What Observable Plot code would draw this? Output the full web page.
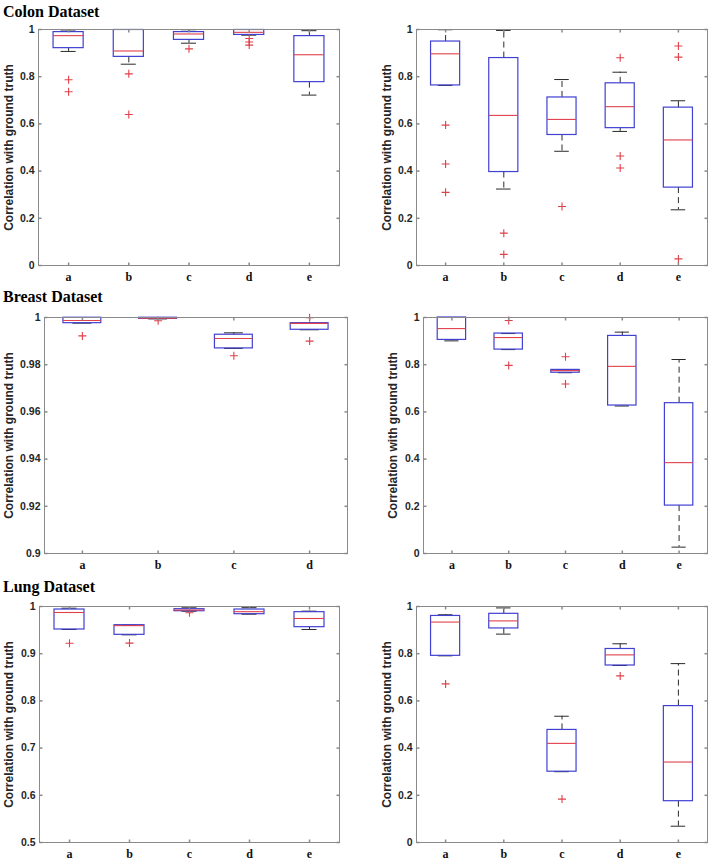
<!DOCTYPE html>
<html><head><meta charset="utf-8">
<script src="https://cdn.jsdelivr.net/npm/d3@7"></script>
<script src="https://cdn.jsdelivr.net/npm/@observablehq/plot@0.6"></script>
<style>
html,body{margin:0;padding:0;background:#fff;}
#fig{position:relative;width:713px;height:861px;overflow:hidden;background:#fff;}
.panel{position:absolute;}
.title{position:absolute;font-family:"Liberation Serif","Times New Roman",serif;font-weight:bold;font-size:16px;line-height:16px;color:#000;white-space:nowrap;}
</style></head><body><div id="fig"></div>
<script>
// Categories and tick values
const cats5 = ["a", "b", "c", "d", "e"];
const cats4 = ["a", "b", "c", "d"];
const ticks01 = [0, 0.2, 0.4, 0.6, 0.8, 1];
const ticksBreastLeft = [0.9, 0.92, 0.94, 0.96, 0.98, 1];
const ticksLungLeft = [0.5, 0.6, 0.7, 0.8, 0.9, 1];
const titles = ["Colon Dataset", "Breast Dataset", "Lung Dataset"];
const yLabel = "Correlation with ground truth";

// Box statistics per category: [lower whisker, q1, median, q3, upper whisker]
const colonLeft = [
  [0.907, 0.921, 0.974, 0.989, 0.998],
  [0.853, 0.884, 0.909, 0.998, 1.0],
  [0.942, 0.956, 0.981, 0.989, 0.999],
  [0.976, 0.977, 0.988, 0.998, 1.0],
  [0.722, 0.777, 0.893, 0.972, 0.995]
];
const colonLeftOutliers = [["a", 0.787], ["a", 0.736], ["b", 0.812], ["b", 0.640], ["c", 0.918], ["d", 0.962], ["d", 0.947], ["d", 0.934]];

const colonRight = [
  [0.763, 0.763, 0.897, 0.949, 0.999],
  [0.324, 0.396, 0.636, 0.879, 0.996],
  [0.484, 0.553, 0.619, 0.712, 0.788],
  [0.568, 0.582, 0.673, 0.772, 0.819],
  [0.236, 0.330, 0.532, 0.669, 0.698]
];
const colonRightOutliers = [["a", 0.595], ["a", 0.430], ["a", 0.310], ["b", 0.137], ["b", 0.047], ["c", 0.250], ["d", 0.880], ["d", 0.464], ["d", 0.413], ["e", 0.930], ["e", 0.883], ["e", 0.028]];

const breastLeft = [
  [0.9976, 0.9976, 0.9987, 0.9999, 1.0],
  [0.9994, 0.9994, 0.9997, 0.9999, 1.0],
  [0.9869, 0.9869, 0.9911, 0.9927, 0.9935],
  [0.9948, 0.9948, 0.9975, 0.9976, 0.9976]
];
const breastLeftOutliers = [["a", 0.9922], ["b", 0.9986], ["c", 0.9838], ["d", 0.9999], ["d", 0.9900]];

const breastRight = [
  [0.901, 0.905, 0.953, 1.0, 1.0],
  [0.864, 0.864, 0.915, 0.932, 0.932],
  [0.766, 0.766, 0.775, 0.778, 0.778],
  [0.625, 0.627, 0.793, 0.922, 0.938],
  [0.027, 0.203, 0.385, 0.637, 0.822]
];
const breastRightOutliers = [["b", 0.987], ["b", 0.797], ["c", 0.834], ["c", 0.718]];

const lungLeft = [
  [0.9513, 0.9513, 0.9873, 0.9936, 0.9964],
  [0.9400, 0.9400, 0.9595, 0.9604, 0.9604],
  [0.9900, 0.9900, 0.9925, 0.9943, 0.9985],
  [0.9837, 0.9837, 0.9890, 0.9936, 0.9975],
  [0.9513, 0.9562, 0.9746, 0.9880, 0.9901]
];
const lungLeftOutliers = [["a", 0.9222], ["b", 0.9225], ["c", 0.9866]];

const lungRight = [
  [0.791, 0.791, 0.934, 0.960, 0.965],
  [0.883, 0.907, 0.939, 0.969, 0.994],
  [0.300, 0.300, 0.420, 0.477, 0.535],
  [0.750, 0.750, 0.795, 0.820, 0.842],
  [0.069, 0.175, 0.341, 0.578, 0.758]
];
const lungRightOutliers = [["a", 0.672], ["c", 0.184], ["d", 0.706]];

// ---------- drawing ----------
const BLUE = "#4040d2", RED = "#e0404a", WHISK = "#2a2a2a", FRAME = "#8a8a8a", TXT = "#262626";
const TL = 3;
const tickLeft = {draw(c) { c.moveTo(0, 0); c.lineTo(TL, 0); }};
const tickRight = {draw(c) { c.moveTo(0, 0); c.lineTo(-TL, 0); }};
const tickBottom = {draw(c) { c.moveTo(0, 0); c.lineTo(0, -TL); }};
const tickTop = {draw(c) { c.moveTo(0, 0); c.lineTo(0, TL); }};
const fmt = d => String(+(+d).toFixed(2));

function panel(o) {
  const {cats, stats, outliers, yTicks, left, top, width, height, ml, mr, mt, mb, ylabX} = o;
  const n = cats.length;
  const boxes = stats.map((s, i) => ({x: i + 1, lo: s[0], q1: s[1], med: s[2], q3: s[3], hi: s[4]}));
  const outs = outliers.map(([c, v]) => ({x: cats.indexOf(c) + 1, y: v}));
  const xt = cats.map((c, i) => i + 1);
  const y0 = yTicks[0], y1 = yTicks[yTicks.length - 1];
  const bw = 0.25, cw = 0.125;
  const chart = Plot.plot({
    width, height, marginLeft: ml, marginRight: mr, marginTop: mt, marginBottom: mb,
    x: {type: "linear", domain: [0.5, n + 0.5]},
    y: {domain: [y0, y1]},
    style: {background: "transparent", overflow: "visible"},
    marks: [
      Plot.ruleX(boxes, {x: "x", y1: "q3", y2: "hi", stroke: WHISK, strokeDasharray: "6,4"}),
      Plot.ruleX(boxes, {x: "x", y1: "q1", y2: "lo", stroke: WHISK, strokeDasharray: "6,4"}),
      Plot.ruleY(boxes, {y: "hi", x1: d => d.x - cw, x2: d => d.x + cw, stroke: WHISK}),
      Plot.ruleY(boxes, {y: "lo", x1: d => d.x - cw, x2: d => d.x + cw, stroke: WHISK}),
      Plot.rect(boxes, {x1: d => d.x - bw, x2: d => d.x + bw, y1: "q1", y2: "q3", fill: "none", stroke: BLUE, strokeWidth: 1.2}),
      Plot.ruleY(boxes, {y: "med", x1: d => d.x - bw, x2: d => d.x + bw, stroke: RED, strokeWidth: 1.1}),
      Plot.dot(outs, {x: "x", y: "y", symbol: "plus", stroke: RED, r: 2.7, strokeWidth: 1.1}),
      Plot.frame({stroke: FRAME}),
      Plot.dot(yTicks, {x: () => 0.5, y: d => d, symbol: tickLeft, fill: "none", stroke: FRAME}),
      Plot.dot(yTicks, {x: () => n + 0.5, y: d => d, symbol: tickRight, fill: "none", stroke: FRAME}),
      Plot.dot(xt, {x: d => d, y: () => y0, symbol: tickBottom, fill: "none", stroke: FRAME}),
      Plot.dot(xt, {x: d => d, y: () => y1, symbol: tickTop, fill: "none", stroke: FRAME}),
      Plot.axisY(yTicks, {tickSize: 0, tickPadding: 4, tickFormat: fmt, fontSize: 10.5, fontWeight: "bold", fill: TXT, fontFamily: "'Liberation Sans', Arial, sans-serif", label: null}),
      Plot.axisX(xt, {tickSize: 0, tickPadding: 7, tickFormat: i => cats[i - 1], fontSize: 12, fontWeight: "bold", fill: "#111", fontFamily: "'Liberation Serif', 'Times New Roman', serif", label: null}),
      Plot.text([yLabel], {frameAnchor: "left", textAnchor: "middle", rotate: -90, dx: -(ml - ylabX), text: d => d, fontSize: 12, fontWeight: "bold", fill: TXT, fontFamily: "'Liberation Sans', Arial, sans-serif"})
    ]
  });
  const wrap = document.createElement("div");
  wrap.className = "panel";
  wrap.style.left = left + "px";
  wrap.style.top = top + "px";
  wrap.appendChild(chart);
  document.getElementById("fig").appendChild(wrap);
}

const fig = document.getElementById("fig");
[[titles[0], 3.5, 3], [titles[1], 288.5, 3], [titles[2], 578.5, 3]].forEach(([t, top, left]) => {
  const d = document.createElement("div");
  d.className = "title"; d.textContent = t;
  d.style.top = top + "px"; d.style.left = left + "px";
  fig.appendChild(d);
});

panel({cats: cats5, stats: colonLeft, outliers: colonLeftOutliers, yTicks: ticks01, left: 0, top: 19, width: 355, height: 271, ml: 38, mr: 16, mt: 10, mb: 25, ylabX: 9});
panel({cats: cats5, stats: colonRight, outliers: colonRightOutliers, yTicks: ticks01, left: 355, top: 19, width: 358, height: 271, ml: 61, mr: 6, mt: 10, mb: 25, ylabX: 32});
panel({cats: cats4, stats: breastLeft, outliers: breastLeftOutliers, yTicks: ticksBreastLeft, left: 0, top: 307, width: 355, height: 271, ml: 44, mr: 8, mt: 10, mb: 25, ylabX: 9});
panel({cats: cats5, stats: breastRight, outliers: breastRightOutliers, yTicks: ticks01, left: 355, top: 307, width: 358, height: 271, ml: 68, mr: 6, mt: 10, mb: 25, ylabX: 38});
panel({cats: cats5, stats: lungLeft, outliers: lungLeftOutliers, yTicks: ticksLungLeft, left: 0, top: 596, width: 355, height: 271, ml: 39, mr: 16, mt: 10, mb: 25, ylabX: 9});
panel({cats: cats5, stats: lungRight, outliers: lungRightOutliers, yTicks: ticks01, left: 355, top: 596, width: 358, height: 271, ml: 61, mr: 6, mt: 10, mb: 25, ylabX: 32});
</script>
</body></html>
